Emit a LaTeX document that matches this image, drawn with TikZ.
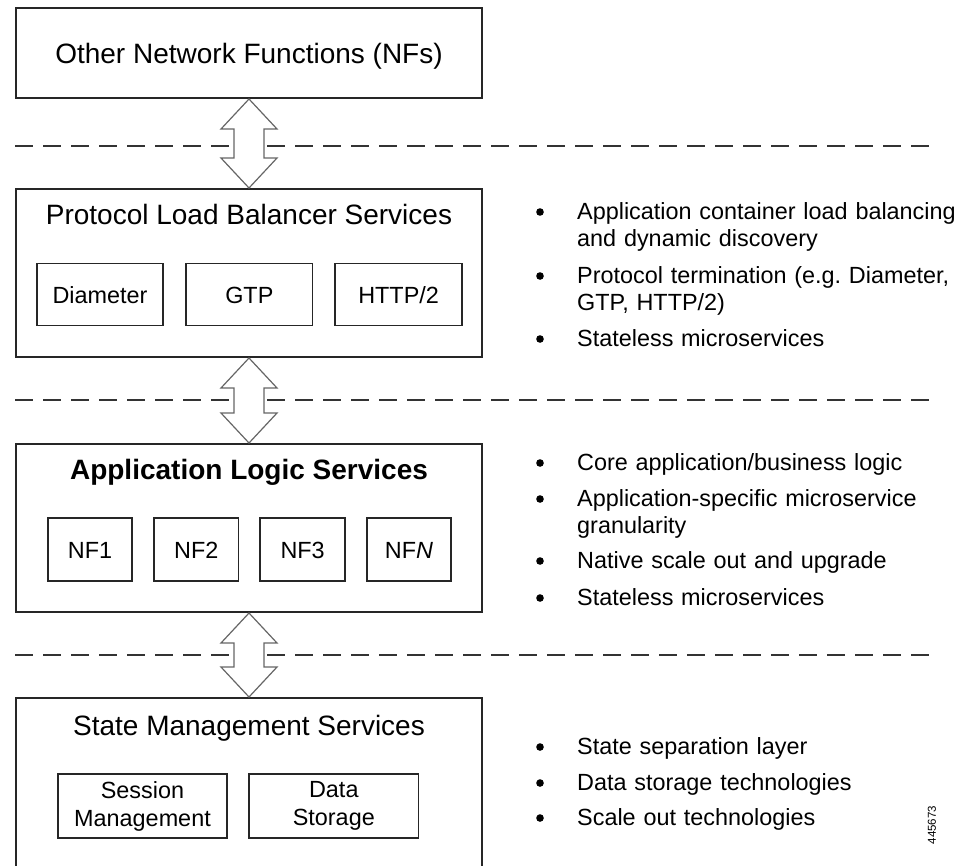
\documentclass[tikz,border=0pt]{standalone}
\usepackage{fontspec}
\setmainfont{Liberation Sans}
\usetikzlibrary{positioning,calc}
\frenchspacing

\begin{document}
\begin{tikzpicture}[x=1pt,y=-1pt,node distance=20pt,
	layer/.style={draw=black!85,line width=2pt,minimum width=466pt,minimum height=168pt,inner sep=0pt},
	title/.style={anchor=base,inner sep=0pt,font=\fontsize{28}{33}\selectfont},
	sub/.style={draw=black!85,line width=1.8pt,minimum height=62pt,inner sep=0pt,align=center,font=\fontsize{23.4}{28}\selectfont},
	item/.style={anchor=base west,inner sep=0pt,text width=420pt,align=left,font=\fontsize{23.4}{27.5}\selectfont},
	divider/.style={draw=black!80,line width=2.2pt,dash pattern=on 18pt off 10pt},
	updown/.style={draw=black!60,fill=white,line width=1.2pt,line join=miter}]
\useasboundingbox (0,0) rectangle (957,865);

\foreach \y in {146,400,655}
	\draw[divider] (15,\y) -- (930,\y);

\node[layer,minimum height=90pt,text height=20pt,text depth=0pt,font=\fontsize{28}{33}\selectfont]
			(onf)	at (249,53)	{Other Network Functions (NFs)};
\node[layer]		(plb)	at (249,273)	{};
\node[layer]		(als)	at (249,528)	{};
\node[layer,minimum height=180pt]	(sms)	at (249,788)	{};

\node[title]		(plbtitle)	at (249,224)	{Protocol Load Balancer Services};
\node[title]		(alstitle)	at (249,479)	{\bfseries Application Logic Services};
\node[title]		(smstitle)	at (249,735)	{State Management Services};

\node[sub,minimum width=126.5pt,text height=17pt,text depth=0pt]	(dia)	at (100,294.5)	{Diameter};
\node[sub,minimum width=126.5pt,text height=17pt,text depth=0pt]	(gtp)	[right=21pt of dia]	{GTP};
\node[sub,minimum width=126.5pt,text height=17pt,text depth=0pt]	(http)	[right=21pt of gtp]	{HTTP/2};

\node[sub,minimum width=84.5pt,minimum height=63.5pt,text height=17pt,text depth=0pt]	(nf1)	at (90,549.5)	{NF1};
\node[sub,minimum width=84.5pt,minimum height=63.5pt,text height=17pt,text depth=0pt]	(nf2)	[right=of nf1]	{NF2};
\node[sub,minimum width=84.5pt,minimum height=63.5pt,text height=17pt,text depth=0pt]	(nf3)	[right=of nf2]	{NF3};
\node[sub,minimum width=84.5pt,minimum height=63.5pt,text height=17pt,text depth=0pt]	(nfn)	[right=of nf3]	{NF\textit{N}};

\node[sub,minimum width=169.5pt,minimum height=63.5pt]	(ses)	at (142.5,806)	{Session\\Management};
\node[sub,minimum width=169.5pt,minimum height=63.5pt]	(dat)	[right=of ses]		{Data\\Storage};

\foreach \a/\b in {onf/plb,plb/als,als/sms}
	\draw[updown] (\a.south) -- ++(28,30) -- ++(-13,0) -- ($(\b.north)+(15,-30)$) -- ++(13,0)
		-- (\b.north) -- ++(-28,-30) -- ++(13,0) -- ($(\a.south)+(-15,30)$) -- ++(-13,0) -- cycle;

\node[item]	(plbnote1)	at (577,219)	{Application container load balancing\\and dynamic discovery};
\node[item]	(plbnote2)	at (577,283)	{Protocol termination (e.g. Diameter,\\GTP, HTTP/2)};
\node[item]	(plbnote3)	at (577,346)	{Stateless microservices};

\node[item]	(alsnote1)	at (577,470)	{Core application/business logic};
\node[item]	(alsnote2)	at (577,506)	{Application-specific microservice\\granularity};
\node[item]	(alsnote3)	at (577,568)	{Native scale out and upgrade};
\node[item]	(alsnote4)	at (577,605)	{Stateless microservices};

\node[item]	(smsnote1)	at (577,754)	{State separation layer};
\node[item]	(smsnote2)	at (577,790)	{Data storage technologies};
\node[item]	(smsnote3)	at (577,825)	{Scale out technologies};

\foreach \n in {plbnote1,plbnote2,plbnote3,alsnote1,alsnote2,alsnote3,alsnote4,smsnote1,smsnote2,smsnote3}
	\fill (\n.base west) ++(-37,-7) circle (3.8pt);

\node[rotate=90,inner sep=0pt,font=\fontsize{11.5}{13}\selectfont]	(figid)	at (932,825)	{445673};
\end{tikzpicture}
\end{document}
